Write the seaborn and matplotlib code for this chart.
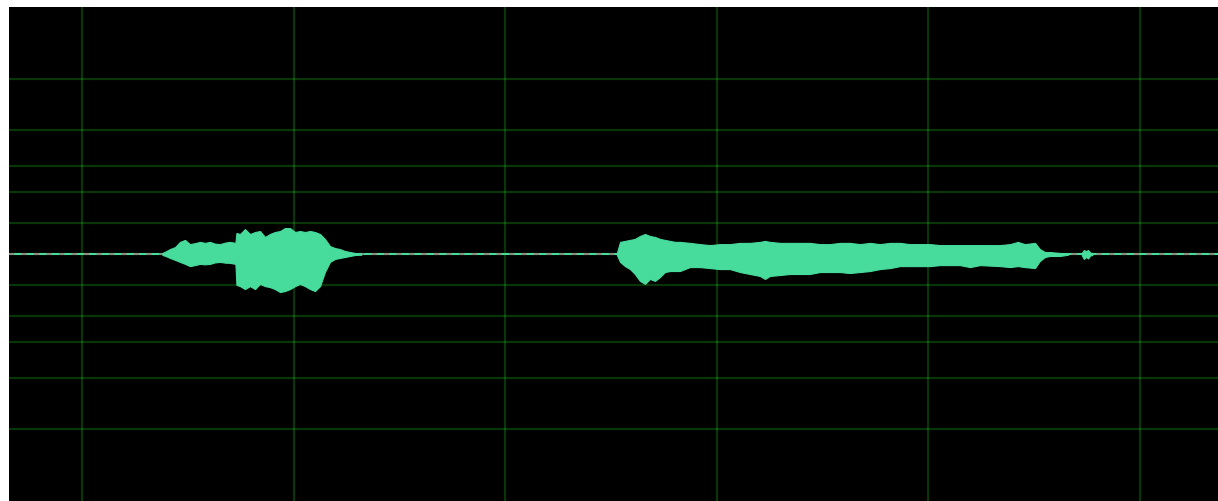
import numpy as np
import pandas as pd
import matplotlib
matplotlib.use("Agg")
import matplotlib.pyplot as plt
import seaborn as sns

# ---- data (time in seconds, amplitude as fraction of full scale) ----
view_range = [0.655, 6.369]
grid_seconds = [1, 2, 3, 4, 5, 6]
# dB grid levels: -3, -6, -9, -12, -18 dB (both polarities)
grid_db = [-3, -6, -9, -12, -18]

seg1_time = [1.380, 1.392, 1.416, 1.440, 1.463, 1.487, 1.510, 1.534, 1.558, 1.581,
             1.605, 1.628, 1.652, 1.676, 1.699, 1.725, 1.730, 1.747, 1.770, 1.794,
             1.818, 1.841, 1.865, 1.888, 1.912, 1.936, 1.959, 1.983, 2.007, 2.030,
             2.054, 2.078, 2.101, 2.125, 2.148, 2.172, 2.196, 2.219, 2.243, 2.267,
             2.290, 2.320]
seg1_upper = [0.004, 0.009, 0.020, 0.028, 0.049, 0.057, 0.040, 0.044, 0.049, 0.045,
              0.049, 0.042, 0.040, 0.046, 0.049, 0.045, 0.085, 0.081, 0.101, 0.081,
              0.089, 0.093, 0.069, 0.081, 0.089, 0.093, 0.105, 0.105, 0.089, 0.093,
              0.089, 0.093, 0.089, 0.081, 0.061, 0.032, 0.024, 0.020, 0.012, 0.008,
              0.004, 0.003]
seg1_lower = [-0.004, -0.007, -0.016, -0.024, -0.032, -0.040, -0.049, -0.045, -0.040, -0.042,
              -0.040, -0.034, -0.032, -0.035, -0.036, -0.040, -0.125, -0.130, -0.142, -0.130,
              -0.142, -0.121, -0.130, -0.134, -0.142, -0.154, -0.150, -0.142, -0.130, -0.121,
              -0.130, -0.142, -0.150, -0.130, -0.073, -0.032, -0.020, -0.016, -0.012, -0.008,
              -0.004, -0.003]

seg2_time = [3.528, 3.543, 3.566, 3.590, 3.613, 3.637, 3.661, 3.684, 3.708, 3.732,
             3.755, 3.779, 3.803, 3.826, 3.873, 3.921, 3.968, 4.015, 4.062, 4.110,
             4.157, 4.204, 4.228, 4.251, 4.299, 4.346, 4.393, 4.440, 4.488, 4.535,
             4.582, 4.629, 4.677, 4.724, 4.771, 4.819, 4.866, 4.913, 4.960, 5.008,
             5.055, 5.102, 5.149, 5.197, 5.244, 5.291, 5.338, 5.386, 5.423, 5.456,
             5.504, 5.527, 5.551, 5.575, 5.622, 5.660]
seg2_upper = [0.004, 0.049, 0.053, 0.057, 0.061, 0.073, 0.081, 0.073, 0.069, 0.061,
              0.057, 0.053, 0.049, 0.049, 0.045, 0.040, 0.036, 0.040, 0.040, 0.045,
              0.045, 0.049, 0.053, 0.049, 0.045, 0.045, 0.045, 0.045, 0.040, 0.040,
              0.045, 0.045, 0.040, 0.045, 0.040, 0.045, 0.045, 0.040, 0.040, 0.040,
              0.036, 0.036, 0.036, 0.036, 0.036, 0.036, 0.036, 0.040, 0.049, 0.040,
              0.045, 0.020, 0.008, 0.008, 0.004, 0.003]
seg2_lower = [-0.004, -0.032, -0.049, -0.061, -0.081, -0.109, -0.121, -0.101, -0.109, -0.093,
              -0.073, -0.069, -0.069, -0.069, -0.053, -0.053, -0.057, -0.061, -0.061, -0.073,
              -0.081, -0.089, -0.101, -0.089, -0.085, -0.081, -0.081, -0.081, -0.073, -0.073,
              -0.073, -0.077, -0.073, -0.069, -0.061, -0.057, -0.049, -0.049, -0.049, -0.049,
              -0.045, -0.045, -0.045, -0.053, -0.045, -0.047, -0.049, -0.053, -0.049, -0.053,
              -0.057, -0.028, -0.012, -0.008, -0.008, -0.003]

blip_time = [5.725, 5.735, 5.745, 5.755, 5.765, 5.775]
blip_upper = [0.004, 0.016, 0.012, 0.016, 0.006, 0.004]
blip_lower = [-0.004, -0.020, -0.012, -0.018, -0.006, -0.004]

baseline_time = view_range
baseline_amp = [0.0, 0.0]

# ---- style ----
WAVE = "#48dc9c"
GRID_RGB = (40 / 255, 235 / 255, 40 / 255)
GRID_ALPHA = 0.23

sns.set_theme(style="dark", rc={"axes.facecolor": "black",
                                "figure.facecolor": "white",
                                "axes.edgecolor": "black"})

fig = plt.figure(figsize=(12.18, 5.02), dpi=100)
ax = fig.add_axes([9 / 1218, 0, 1 - 9 / 1218, 494 / 502])

# centre (silence) line
base_df = pd.DataFrame({"t": baseline_time, "a": baseline_amp})
sns.lineplot(data=base_df, x="t", y="a", ax=ax, color=WAVE, linewidth=1.5, zorder=2)
ax.plot(baseline_time, baseline_amp, color="#8c8c7c", linewidth=1.5,
        dashes=(2.5, 3.5), zorder=2.1)

# waveform envelopes
for t, up, lo in [(seg1_time, seg1_upper, seg1_lower),
                  (seg2_time, seg2_upper, seg2_lower),
                  (blip_time, blip_upper, blip_lower)]:
    ax.fill_between(t, lo, up, color=WAVE, linewidth=0.8, edgecolor=WAVE, zorder=3)

# grid
levels = [10 ** (d / 20) for d in grid_db]
ax.set_xticks(grid_seconds)
ax.set_yticks(sorted(levels + [-v for v in levels]))
ax.grid(True, color=GRID_RGB, alpha=GRID_ALPHA, linewidth=1.6)
ax.set_axisbelow(False)
ax.tick_params(labelbottom=False, labelleft=False, length=0)
for s in ax.spines.values():
    s.set_visible(False)
ax.set_xlabel("")
ax.set_ylabel("")

ax.set_xlim(view_range)
ax.set_ylim(-1, 1)

fig.savefig("out.png", dpi=100)
